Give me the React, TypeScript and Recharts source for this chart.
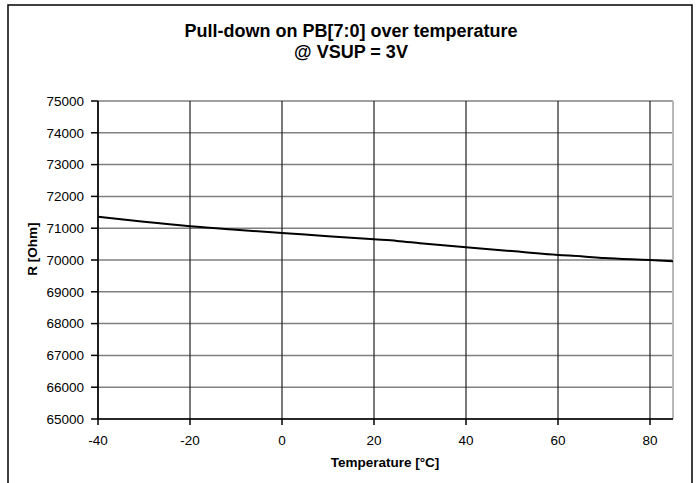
import React from 'react';
import {
    LineChart,
    Line,
    XAxis,
    YAxis,
    CartesianGrid,
    ReferenceLine
} from 'recharts';

const temperatures = [-40, -30, -20, -10, 0, 10, 20, 25, 30, 40, 50, 60, 65, 70, 80, 85];
const resistance = [71360, 71200, 71060, 70950, 70850, 70750, 70650, 70600, 70530, 70400, 70280, 70160, 70120, 70060, 70000, 69960];
const xTicks = [-40, -20, 0, 20, 40, 60, 80];
const yTicks = [65000, 66000, 67000, 68000, 69000, 70000, 71000, 72000, 73000, 74000, 75000];

const data = temperatures.map((t, i) => ({ t, r: resistance[i] }));

const FONT = '"Liberation Sans", Arial, sans-serif';

const App: React.FC = () => {
    return (
        <div style={{ position: 'absolute', left: 0, top: 0, width: 700, height: 483, background: '#fff', fontFamily: FONT }}>
            <LineChart
                width={700}
                height={483}
                data={data}
                margin={{ top: 101, right: 27, bottom: 34, left: 0 }}
            >
                <CartesianGrid horizontal={true} vertical={false} stroke="#808080" strokeWidth={1.5} />
                <CartesianGrid horizontal={false} vertical={true} stroke="#202020" strokeWidth={1.2} />
                <XAxis
                    dataKey="t"
                    type="number"
                    domain={[-40, 85]}
                    ticks={xTicks}
                    allowDataOverflow
                    height={30}
                    stroke="#000"
                    strokeWidth={1.5}
                    tickSize={6}
                    tickMargin={10}
                    tick={{ fill: '#000', fontSize: 13.5, fontFamily: FONT }}
                />
                <YAxis
                    dataKey="r"
                    type="number"
                    domain={[65000, 75000]}
                    ticks={yTicks}
                    width={98}
                    stroke="#000"
                    strokeWidth={1.5}
                    tickSize={7}
                    tickMargin={7}
                    tick={{ fill: '#000', fontSize: 13.5, fontFamily: FONT }}
                />
                <ReferenceLine x={85} stroke="#b8b8b8" strokeWidth={2} />
                <Line
                    type="monotone"
                    dataKey="r"
                    stroke="#000"
                    strokeWidth={2}
                    dot={false}
                    isAnimationActive={false}
                />
            </LineChart>
            <svg
                width={700}
                height={483}
                style={{ position: 'absolute', left: 0, top: 0, pointerEvents: 'none' }}
            >
                <rect x={8} y={5} width={684} height={500} fill="none" stroke="#000" strokeWidth={1.5} />
                <text x={351} y={37} textAnchor="middle" fontFamily={FONT} fontWeight="bold" fontSize={18}>
                    Pull-down on PB[7:0] over temperature
                </text>
                <text x={351} y={58} textAnchor="middle" fontFamily={FONT} fontWeight="bold" fontSize={18}>
                    @ VSUP = 3V
                </text>
                <text x={385} y={467} textAnchor="middle" fontFamily={FONT} fontWeight="bold" fontSize={13.5}>
                    Temperature [°C]
                </text>
                <text
                    x={0}
                    y={0}
                    textAnchor="middle"
                    fontFamily={FONT}
                    fontWeight="bold"
                    fontSize={13.5}
                    transform="translate(37,249) rotate(-90)"
                >
                    R [Ohm]
                </text>
            </svg>
        </div>
    );
};

export default App;
